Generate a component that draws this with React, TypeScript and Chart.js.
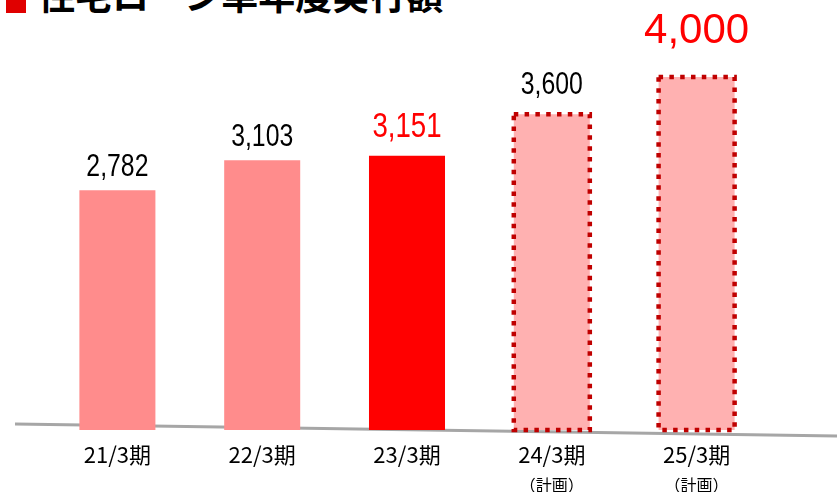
import React, { useEffect, useRef } from "react";
import { Chart, registerables } from "chart.js";

Chart.register(...registerables);

// ---- data ----
const titleText = "住宅ローン単年度実行額";
const categories = ["21/3期", "22/3期", "23/3期", "24/3期", "25/3期"];
const subLabels = ["", "", "", "（計画）", "（計画）"];
const values = [2782, 3103, 3151, 3600, 4000];
const planned = [false, false, false, true, true];
const valueLabels = values.map((v) => v.toLocaleString("en-US"));

// ---- styles ----
const barColors = ["#FF8C8C", "#FF8C8C", "#FF0000", "#FFB1B1", "#FFB1B1"];
const labelColors = ["#000000", "#000000", "#FF0000", "#000000", "#FF0000"];
const labelFontSizes = [31, 31, 35, 31, 42];
const labelScaleX = [0.8, 0.8, 0.79, 0.8, 1.0];
const labelGaps = [14, 14, 19, 20, 34];

const baselinePlugin = {
  id: "slantedBaseline",
  beforeDatasetsDraw(chart: any) {
    const { ctx, chartArea } = chart;
    ctx.save();
    ctx.strokeStyle = "#A6A6A6";
    ctx.lineWidth = 3;
    ctx.beginPath();
    ctx.moveTo(15, chartArea.bottom - 6);
    ctx.lineTo(chart.width, chartArea.bottom + 6);
    ctx.stroke();
    ctx.restore();
  },
};

const dashedBorderPlugin = {
  id: "dashedBorder",
  afterDatasetsDraw(chart: any) {
    const { ctx, chartArea } = chart;
    const meta = chart.getDatasetMeta(0);
    meta.data.forEach((bar: any, i: number) => {
      if (!planned[i]) return;
      const w = bar.width;
      const bottom = Math.min(bar.base, chartArea.bottom);
      ctx.save();
      ctx.strokeStyle = "#C00000";
      ctx.lineWidth = 4.5;
      ctx.setLineDash([4.5, 6.3]);
      ctx.strokeRect(bar.x - w / 2, bar.y, w, bottom - bar.y);
      ctx.restore();
    });
  },
};

const valueLabelPlugin = {
  id: "valueLabels",
  afterDatasetsDraw(chart: any) {
    const { ctx } = chart;
    const meta = chart.getDatasetMeta(0);
    meta.data.forEach((bar: any, i: number) => {
      ctx.save();
      ctx.translate(bar.x, bar.y - labelGaps[i]);
      ctx.scale(labelScaleX[i], 1);
      ctx.font = `${labelFontSizes[i]}px "Liberation Sans", Arial, sans-serif`;
      ctx.textAlign = "center";
      ctx.textBaseline = "alphabetic";
      ctx.fillStyle = labelColors[i];
      ctx.fillText(valueLabels[i], 0, 0);
      ctx.restore();
    });
  },
};

const subLabelPlugin = {
  id: "subLabels",
  afterDraw(chart: any) {
    const { ctx } = chart;
    const xScale = chart.scales.x;
    ctx.save();
    ctx.font = `16px "Noto Sans CJK JP", sans-serif`;
    ctx.fillStyle = "#000000";
    ctx.textAlign = "center";
    ctx.textBaseline = "middle";
    subLabels.forEach((s, i) => {
      if (!s) return;
      ctx.fillText(s, xScale.getPixelForValue(i), 485);
    });
    ctx.restore();
  },
};

export default function App() {
  const canvasRef = useRef<HTMLCanvasElement | null>(null);

  useEffect(() => {
    if (!canvasRef.current) return;
    const chart = new Chart(canvasRef.current, {
      type: "bar",
      data: {
        labels: categories,
        datasets: [
          {
            data: values,
            backgroundColor: barColors,
            borderWidth: 0,
            categoryPercentage: 1,
            barPercentage: 0.525,
          },
        ],
      },
      options: {
        animation: false,
        responsive: true,
        maintainAspectRatio: false,
        layout: { padding: { left: 45, right: 68, top: 77, bottom: 13.6 } },
        plugins: {
          legend: { display: false },
          tooltip: { enabled: false },
        },
        scales: {
          x: {
            grid: { display: false, drawTicks: false },
            border: { display: false },
            ticks: {
              color: "#000000",
              padding: 11,
              maxRotation: 0,
              autoSkip: false,
              font: { family: '"Noto Sans CJK JP", sans-serif', size: 22 },
            },
          },
          y: {
            display: false,
            min: 200,
            max: 4000,
          },
        },
      },
      plugins: [baselinePlugin, dashedBorderPlugin, valueLabelPlugin, subLabelPlugin],
    });
    return () => chart.destroy();
  }, []);

  return (
    <div
      style={{
        position: "fixed",
        left: 0,
        top: 0,
        width: 837,
        height: 492,
        background: "#ffffff",
        overflow: "hidden",
      }}
    >
      <div
        style={{
          position: "absolute",
          left: 6,
          top: 0,
          width: 20,
          height: 13,
          background: "#E00000",
        }}
      />
      <div
        style={{
          position: "absolute",
          left: 38,
          top: -24,
          fontFamily: '"Noto Sans CJK JP", sans-serif',
          fontWeight: 700,
          fontSize: 37,
          lineHeight: "37px",
          whiteSpace: "nowrap",
          color: "#000000",
        }}
      >
        {titleText}
      </div>
      <div style={{ position: "absolute", left: 0, top: 0, width: 837, height: 492 }}>
        <canvas ref={canvasRef} />
      </div>
    </div>
  );
}
